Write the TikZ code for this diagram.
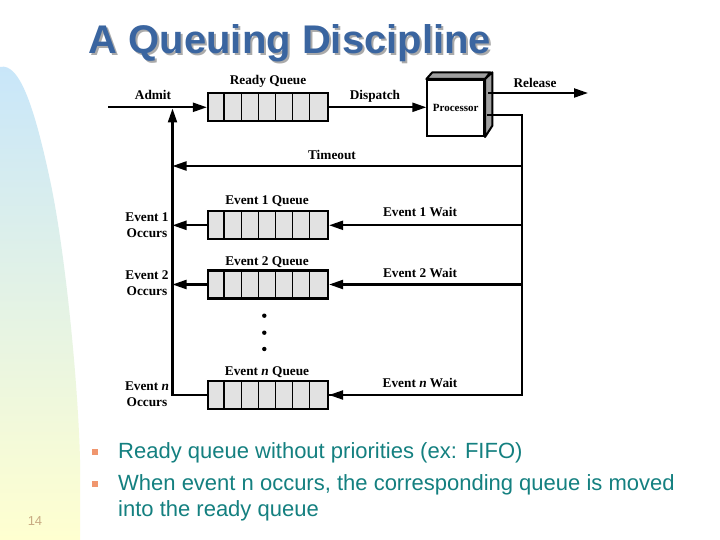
\documentclass[tikz,border=0pt]{standalone}
\usepackage{fontspec}
\setmainfont{Liberation Serif}
\newfontfamily\arialf{Liberation Sans}
\usetikzlibrary{arrows.meta}
\definecolor{titleblue}{RGB}{58,101,160}
\definecolor{titleshade}{RGB}{170,170,170}
\definecolor{tealtext}{RGB}{20,128,128}
\definecolor{bulletc}{RGB}{240,150,110}
\definecolor{pagenum}{RGB}{200,170,130}
\definecolor{qfill}{RGB}{226,226,226}
\definecolor{sideface}{RGB}{160,160,160}
\definecolor{bgblue}{RGB}{200,230,250}
\definecolor{bgyellow}{RGB}{255,255,208}
\tikzset{
 lbl/.style={font=\fontsize{13.3}{16}\selectfont\bfseries, inner sep=0, align=center},
 queuebox/.style={draw, line width=2.2pt, fill=qfill, minimum width=120pt, minimum height=28pt, inner sep=0},
 conn/.style={line width=2.2pt},
 arr/.style={conn, -{Triangle[length=14pt,width=9pt]}},
 face/.style={draw, line width=2pt, fill=sideface, line join=round},
 bullettext/.style={anchor=base west, font=\arialf\fontsize{22}{26}\selectfont, text=tealtext, inner sep=0},
 bulletbox/.style={fill=bulletc, minimum size=6pt, inner sep=0},
 titletext/.style={anchor=base west, inner sep=0, font=\arialf\bfseries\fontsize{40}{46}\selectfont},
}
\begin{document}
\begin{tikzpicture}[x=1pt,y=-1pt]
\useasboundingbox (0,0) rectangle (720,540);
\fill[white] (0,0) rectangle (720,540);
\shade[top color=bgblue, bottom color=bgyellow] (0,67) .. controls (20,62) and (35,110) .. (50,180) .. controls (65,250) and (78,380) .. (80,460) -- (80,540) -- (0,540) -- cycle;

% title (with its shadow in the same node)
\node[titletext, text=titleblue] (title) at (88.5,54) {\rlap{\hspace{2pt}\raisebox{-2pt}{\color{titleshade}A Queuing Discipline}}A Queuing Discipline};

% queues
\node[queuebox] (rq) at (268,107.3) {};
\node[queuebox] (e1q) at (268,225.3) {};
\node[queuebox] (e2q) at (268,284.5) {};
\node[queuebox] (enq) at (268,395) {};
\foreach \q in {rq,e1q,e2q,enq}{
  \foreach \i in {1,...,6}{
    \draw[line width=1.1pt] ([xshift=\i*17.14pt]\q.north west) -- ([xshift=\i*17.14pt]\q.south west);
  }
}
\node[lbl] (rql) at (268,81) {Ready Queue};
\node[lbl] (e1ql) at (267,201) {Event 1 Queue};
\node[lbl] (e2ql) at (267,262) {Event 2 Queue};
\node[lbl] (enql) at (267,372) {Event \textit{n} Queue};

% processor
\node[draw, line width=2pt, fill=white, minimum width=56.7pt, minimum height=56pt, inner sep=0, font=\fontsize{11}{13}\selectfont\bfseries] (proc) at (455.7,108) {Processor};
\draw[face] (proc.north west) -- ++(6,-6.7) -- ++(58,0) -- (proc.north east) -- cycle;
\draw[face] (proc.north east) -- ++(7.3,-6.7) -- ++(0,53.4) -- (proc.south east) -- cycle;

% coordinates
\coordinate (adm) at (108,107.3);
\coordinate (rs) at (488,93);
\coordinate (relend) at (588,93);
\coordinate (ts) at (487,115);
\coordinate (tr) at (521.7,115);
\coordinate (tb) at (521.7,395);
\coordinate (lt) at (172.5,108.5);
\coordinate (lb) at (172.5,395);
\coordinate (tor) at (521.7,166);
\coordinate (tol) at (172.5,166);

% connectors
\draw[arr] (adm) -- (rq.west);
\draw[arr] (rq.east) -- (rq.east -| proc.west);
\draw[arr] (rs) -- (relend);
\draw[conn, line join=miter] (ts) -- (tr) -- (tb) -- (enq.east);
\draw[arr] (tb) -- (enq.east);
\draw[arr] (tor) -- (tol);
\draw[arr] (tr |- e1q.east) -- (e1q.east);
\draw[arr] (tr |- e2q.east) -- (e2q.east);
\draw[arr, line join=miter] (enq.west) -- (lb) -- (lt);
\draw[arr] (e1q.west) -- (lb |- e1q.west);
\draw[arr] (e2q.west) -- (lb |- e2q.west);

% labels
\node[lbl] (admitl) at (153,95) {Admit};
\node[lbl] (displ) at (375,96) {Dispatch};
\node[lbl] (rell) at (535,83) {Release};
\node[lbl] (tol2) at (332,155) {Timeout};
\node[lbl] (e1w) at (420,212) {Event 1 Wait};
\node[lbl] (e2w) at (420,273) {Event 2 Wait};
\node[lbl] (enw) at (420,383) {Event \textit{n} Wait};
\node[lbl] (e1o) at (147,225.5) {Event 1\\Occurs};
\node[lbl] (e2o) at (147,283.5) {Event 2\\Occurs};
\node[lbl] (eno) at (147,394.5) {Event \textit{n}\\Occurs};

% dots
\fill (264.3,315.7) circle (2.2pt) (264.3,332.7) circle (2.2pt) (264.3,349) circle (2.2pt);

% bullets
\node[bulletbox] (b1) at (95,452) {};
\node[bulletbox] (b2) at (95,484) {};
\node[bullettext] (t1) at (118,458) {Ready queue without priorities (ex: FIFO)};
\node[bullettext] (t2) at (118,490) {When event n occurs, the corresponding queue is moved};
\node[bullettext] (t3) at (118,516) {into the ready queue};
\node[font=\arialf\fontsize{13}{15}\selectfont, text=pagenum, inner sep=0] (pn) at (35,521) {14};
\end{tikzpicture}
\end{document}
